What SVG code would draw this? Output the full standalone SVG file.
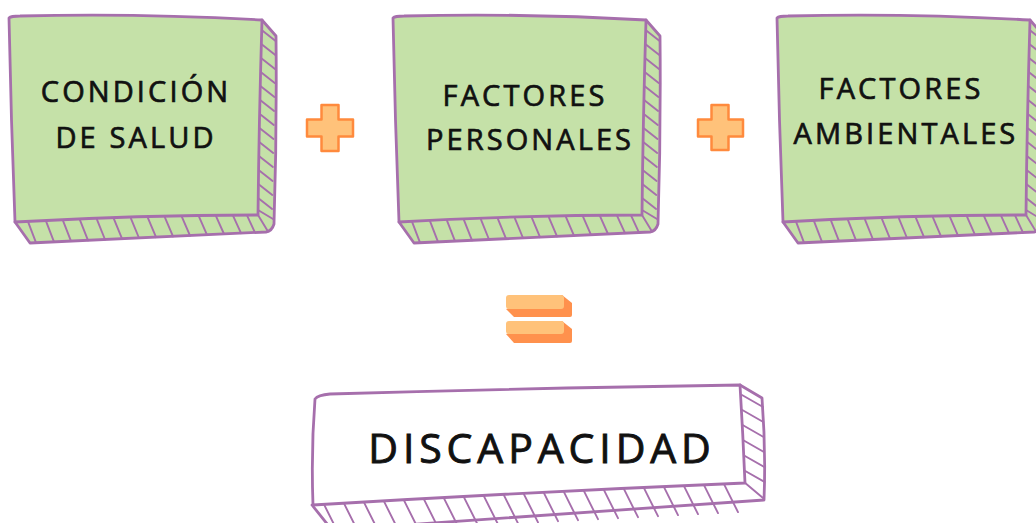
<svg xmlns="http://www.w3.org/2000/svg" xmlns:xlink="http://www.w3.org/1999/xlink" width="1036" height="523" viewBox="0 0 1036 523">
<style>
.edge{stroke:#A66FAC;stroke-width:2.8;stroke-linejoin:round;stroke-linecap:round}
.hatch{fill:none;stroke:#A66FAC;stroke-width:1.9;stroke-linecap:round}
.green{fill:#C5E1A8}
.white{fill:#FFFFFF}
.lbl{font-family:"Open Sans","Noto Sans","Liberation Sans",sans-serif;font-size:29px;font-weight:400;letter-spacing:3.1px;fill:#111111;stroke:#111111;stroke-width:0.7px;text-anchor:middle}
.big{font-family:"Open Sans","Noto Sans","Liberation Sans",sans-serif;font-size:41px;font-weight:400;letter-spacing:4.9px;fill:#111111;stroke:#111111;stroke-width:0.9px;text-anchor:middle}
.op{fill:#FFC27A;stroke:#FF8A3D;stroke-width:2.5;stroke-linejoin:round}
.opf{fill:#FFC27A}
.ops{fill:#FF914D}
</style>
<defs>
<g id="box">
<path class="green edge" d="M262,20 L276,36 Q277,130 274,224 Q272,231 266,232 L30,243 L15,222 Z"/>
<path class="hatch" d="M261.6,30 l14,11 M261.3,44 l14,11 M261,58 l14,11 M260.7,72 l14,11 M260.4,86 l14,11 M260.1,100 l14,11 M259.8,114 l14,11 M259.5,128 l14,11 M259.2,142 l14,11 M258.9,156 l14,11 M258.6,170 l14,11 M258.3,184 l14,11 M258.1,198 l14,11 M258,210 l15,9"/>
<path class="hatch" d="M28,221.6 L36,242.7 M46,221.1 L54,241.9 M63,220.6 L71,241.1 M80,220.1 L88,240.3 M97,219.6 L105,239.5 M114,219.1 L122,238.7 M131,218.7 L139,238 M148,218.2 L156,237.2 M165,217.7 L173,236.4 M182,217.2 L190,235.6 M199,216.7 L207,234.8 M216,216.2 L224,234 M233,215.7 L241,233.2 M247,215.3 L255,232.6"/>
<path class="hatch" d="M258,215 L268,231.5"/>
<path class="green edge" d="M9,18 Q11,16 20,16 Q140,13 262,20 Q259,120 258,215 Q140,215 15,222 Q11,120 9,18 Z"/>
</g>
</defs>
<g id="connectors">
<g id="plus1"><polygon class="op" points="321.5,105 338.5,105 338.5,119.5 353,119.5 353,136.5 338.5,136.5 338.5,151 321.5,151 321.5,136.5 307,136.5 307,119.5 321.5,119.5"/></g>
<g id="plus2"><polygon class="op" points="711.5,105 728.5,105 728.5,119.5 743,119.5 743,136.5 728.5,136.5 728.5,150 711.5,150 711.5,136.5 698,136.5 698,119.5 711.5,119.5"/></g>
<g id="equals">
<path class="ops" d="M562,295 L572,303 L572,315 Q572,317 570,317 L514,317 L506,309 Z"/>
<rect class="opf" x="506" y="295" width="58" height="14" rx="3"/>
<path class="ops" d="M562,321 L572,329 L572,341 Q572,343 570,343 L514,343 L506,334 Z"/>
<rect class="opf" x="506" y="321" width="58" height="13" rx="3"/>
</g>
</g>
<g id="node-condicion">
<use xlink:href="#box"/>
<text class="lbl" x="136" y="102">CONDICIÓN</text>
<text class="lbl" x="136" y="148">DE SALUD</text>
</g>
<g id="node-personales">
<use xlink:href="#box" transform="translate(384,0)"/>
<text class="lbl" x="525" y="106">FACTORES</text>
<text class="lbl" x="530" y="150">PERSONALES</text>
</g>
<g id="node-ambientales">
<use xlink:href="#box" transform="translate(768,0)"/>
<text class="lbl" x="901" y="99">FACTORES</text>
<text class="lbl" x="906" y="144">AMBIENTALES</text>
</g>
<g id="node-discapacidad">
<path class="white edge" d="M740,385 L762,398 Q766,450 764,500 L332,530 L312,505 Z"/>
<path class="hatch" d="M742,395 l21,12 M742.3,410 l21,12 M742.6,425 l21,12 M742.9,440 l21,12 M743.2,455 l21,12 M743.5,470 l21,12 M744,482 l19,16"/>
<path class="hatch" d="M324,504.4 l14,28 M344,503.4 l14,28 M364,502.4 l14,28 M384,501.4 l14,28 M404,500.4 l14,28 M424,499.4 l14,28 M444,498.3 l14,28 M464,497.3 l14,28 M484,496.3 l14,28 M504,495.3 l14,28 M524,494.3 l14,28 M544,493.2 l14,28 M564,492.2 l14,28 M584,491.2 l14,28 M604,490.2 l14,28 M624,489.2 l14,28 M644,488.2 l14,28 M664,487.1 l14,28 M684,486.1 l14,28 M704,485.1 l14,28 M724,484.1 l14,28"/>
<path class="white edge" d="M315,399 Q318,395 330,394 Q540,388 740,385 Q743,435 745,483 Q530,492 313,505 Q311,450 315,399 Z"/>
<text class="big" x="542" y="463">DISCAPACIDAD</text>
</g>
</svg>
